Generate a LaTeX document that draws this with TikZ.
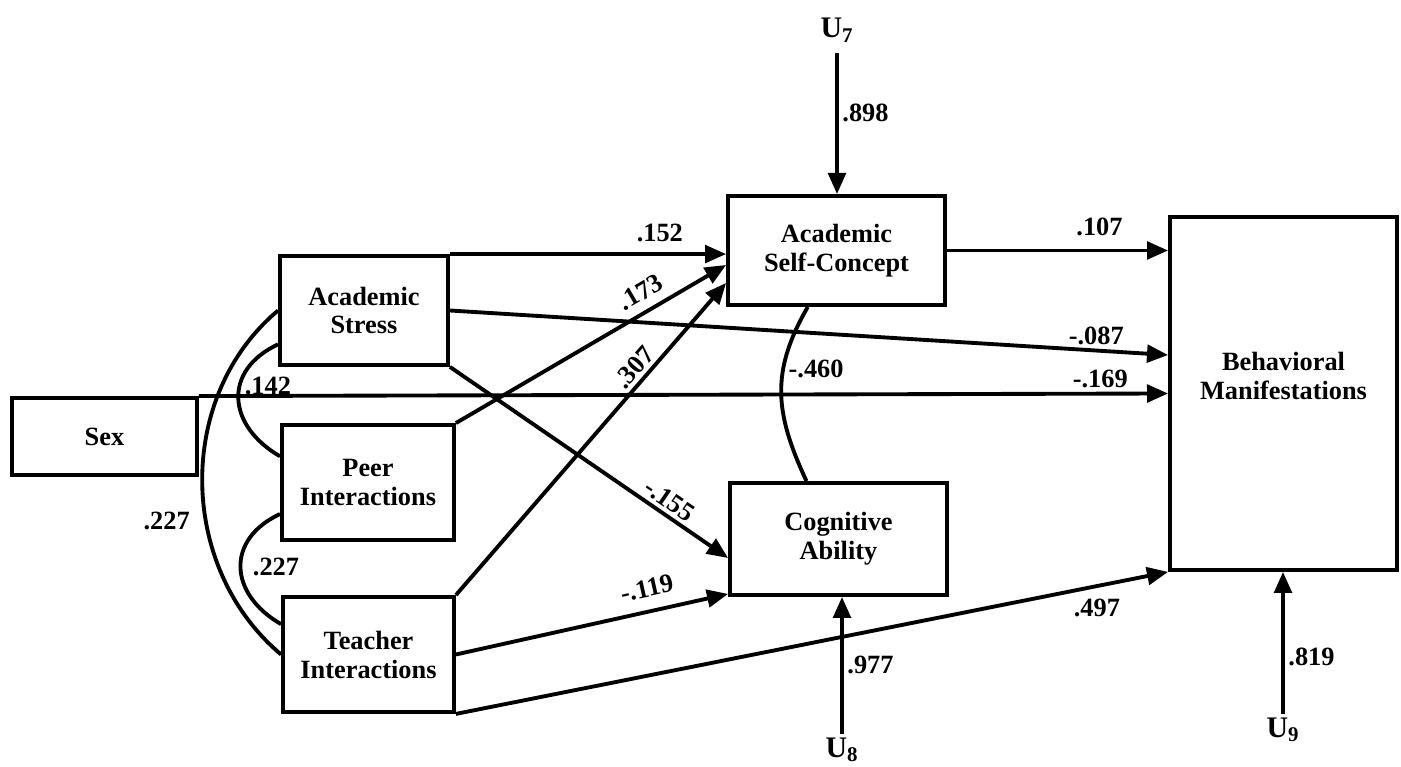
\documentclass[tikz,border=0pt]{standalone}
\usepackage{fontspec}
\setmainfont{Liberation Serif}
\usetikzlibrary{arrows.meta,calc}
\tikzset{
	varbox/.style={draw, line width=2.2pt, align=center, inner sep=0pt, font=\fontsize{15}{16.5}\selectfont\bfseries},
	effect/.style={line width=2.2pt, -{Triangle[length=12pt,width=10pt]}},
	corr/.style={line width=2.2pt},
	coef/.style={font=\fontsize{15}{16}\selectfont\bfseries, inner sep=2pt},
	error/.style={font=\fontsize{17}{18}\selectfont\bfseries, inner sep=2pt}
}
\begin{document}
\begin{tikzpicture}[x=0.02cm,y=0.02cm]
	\useasboundingbox (0,0) rectangle (1401,767);
	\node[varbox, minimum width=3.7cm, minimum height=1.54cm] (sex) at (104.5,330.5) {Sex};
	\node[varbox, minimum width=3.36cm, minimum height=2.18cm] (stress) at (364,456.5) {Academic\\Stress};
	\node[varbox, minimum width=3.44cm, minimum height=2.3cm] (peer) at (368,284.5) {Peer\\Interactions};
	\node[varbox, minimum width=3.42cm, minimum height=2.3cm] (teacher) at (368.5,112.5) {Teacher\\Interactions};
	\node[varbox, minimum width=4.34cm, minimum height=2.18cm] (selfc) at (836.5,516.5) {Academic\\Self-Concept};
	\node[varbox, minimum width=4.34cm, minimum height=2.24cm] (cog) at (838.5,228) {Cognitive\\Ability};
	\node[varbox, minimum width=4.54cm, minimum height=7.06cm] (behav) at (1283.5,373.5) {};
	\node[varbox, draw=none] (behavtext) at (1283.5,391) {Behavioral\\Manifestations};
	\node[error] (u7) at (837,737) {U\textsubscript{7}};
	\node[error] (u8) at (842,17) {U\textsubscript{8}};
	\node[error] (u9) at (1283,37) {U\textsubscript{9}};
	\draw[effect] (stress.north east) -- (stress.north east -| selfc.west) node[coef, pos=0.76, above=4pt] {.152};
	\draw[effect] (selfc.east) -- (selfc.east -| behav.west) node[coef, pos=0.69, above=5pt] {.107};
	\draw[effect] (stress.east) -- ($(behav.west)+(0,38.5)$) node[coef, pos=0.9, above] {-.087};
	\draw[effect] (sex.north east) -- (behav.west) node[coef, pos=0.93, above] {-.169};
	\draw[effect] (stress.south east) -- ($(cog.west)+(0,-19)$) node[coef, pos=0.76, above, sloped] {-.155};
	\draw[effect] (peer.north east) -- ($(selfc.west)+(0,-14.5)$) node[coef, pos=0.72, above=3pt, sloped] {.173};
	\draw[effect] (teacher.north east) -- ($(selfc.west)+(0,-32.5)$) node[coef, pos=0.7, above, sloped] {.307};
	\draw[effect] (teacher.east) -- ($(cog.south west)+(0,3)$) node[coef, pos=0.72, above=5pt, sloped] {-.119};
	\draw[effect] (teacher.south east) -- (behav.south west) node[coef, pos=0.9, below=4pt] {.497};
	\draw[effect, shorten <=4pt] (u7) -- (u7 |- selfc.north) node[coef, pos=0.45, right] {.898};
	\draw[effect] (u8) -- (u8 |- cog.south) node[coef, pos=0.5, right] {.977};
	\draw[effect] (u9) -- (u9 |- behav.south) node[coef, pos=0.4, right] {.819};
	\draw[corr] (stress.west) to[out=220, in=140] node[coef, pos=0.6, left=6pt] {.227} (teacher.west);
	\draw[corr] ($(stress.south west)!0.2!(stress.north west)$) to[out=205, in=150, looseness=1.4] node[coef, pos=0.4, right] {.142} ($(peer.north west)!0.28!(peer.south west)$);
	\draw[corr] ($(peer.south west)!0.235!(peer.north west)$) to[out=205, in=150, looseness=1.4] node[coef, pos=0.5, right=4pt] {.227} ($(teacher.north west)!0.245!(teacher.south west)$);
	\draw[corr] ($(selfc.south west)!0.37!(selfc.south east)$) to[out=240, in=115, looseness=1.1] node[coef, pos=0.35, right] {-.460} ($(cog.north west)!0.355!(cog.north east)$);
\end{tikzpicture}
\end{document}
